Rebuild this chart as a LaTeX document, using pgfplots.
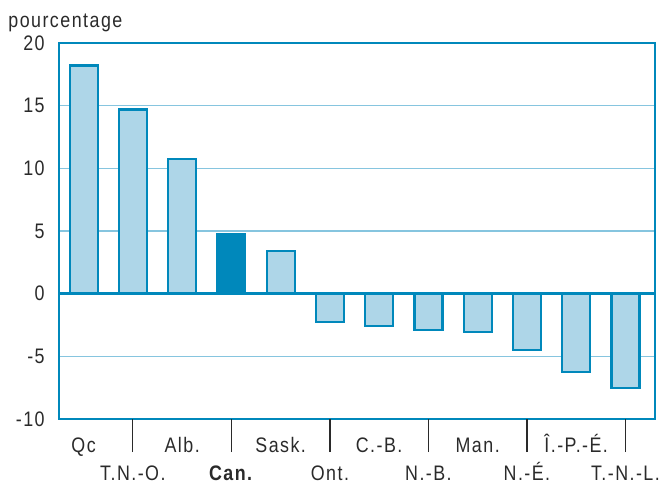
\documentclass[border=0pt]{standalone}
\usepackage{fontspec}
\setmainfont{Liberation Sans}[FakeStretch=0.85,LetterSpace=7]
\usepackage{pgfplots}
\pgfplotsset{compat=1.18}
\definecolor{barfill}{HTML}{AED6E8}
\definecolor{baredge}{HTML}{0088BB}
\definecolor{gridc}{HTML}{86C5DF}
\definecolor{txt}{HTML}{2A2A2A}
\begin{document}
\fontsize{10.5pt}{12pt}\selectfont
\begin{tikzpicture}
\begin{axis}[
  scale only axis, width=298pt, height=188pt,
  xmin=-0.5, xmax=11.6, ymin=-10, ymax=20,
  axis line style={draw=baredge, line width=1.2pt},
  ytick={-10,-5,0,5,10,15,20},
  ymajorgrids, major grid style={draw=gridc, line width=0.8pt},
  major tick length=0pt,
  /pgf/number format/assume math mode=true,
  yticklabel style={inner sep=0pt, xshift=-7pt, text=txt},
  xtick={0,2,4,6,8,10},
  xticklabels={Qc,Alb.,Sask.,C.-B.,Man.,Î.-P.-É.},
  xtick pos=bottom,
  xticklabel style={anchor=base, inner sep=0pt, yshift=-16.5pt, text=txt},
  extra x ticks={1,3,5,7,9,11},
  extra x tick labels={T.N.-O.,\textbf{Can.},Ont.,N.-B.,N.-É.,T.-N.-L.},
  extra x tick style={major tick length=16.5pt, tick align=outside,
     tick style={draw=txt, line width=0.6pt},
     xticklabel style={yshift=2.5pt}},
  ybar, bar width=14pt, bar shift=0pt,
  clip=false,
]
\addplot[fill=barfill, draw=baredge, line width=1.1pt] coordinates {
 (0,18.2) (1,14.7) (2,10.75) (4,3.4) (5,-2.25) (6,-2.6) (7,-2.9) (8,-3.05) (9,-4.5) (10,-6.25) (11,-7.5)};
\addplot[fill=baredge, draw=baredge, line width=1.1pt] coordinates {(3,4.75)};
\addplot[sharp plot, draw=baredge, line width=1.6pt, mark=none] coordinates {(-0.5,0) (11.6,0)};
\node[anchor=base west, inner sep=0pt, text=txt] at (rel axis cs:0,1) [xshift=-25.5pt, yshift=8pt] {pourcentage};
\end{axis}
\pgfresetboundingbox
\path[use as bounding box] ([xshift=-29.5pt,yshift=-32pt]current axis.south west) rectangle ([xshift=5pt,yshift=21.5pt]current axis.north east);
\end{tikzpicture}
\end{document}
